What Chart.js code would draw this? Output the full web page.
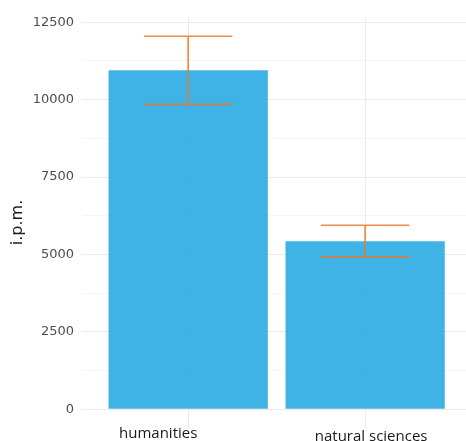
<!DOCTYPE html>
<html>
<head>
<meta charset="utf-8">
<script src="https://cdn.jsdelivr.net/npm/chart.js@4/dist/chart.umd.min.js"></script>
<style>
  html, body { margin: 0; padding: 0; background: #ffffff; }
  #wrap { width: 466px; height: 441px; }
</style>
</head>
<body>
<div id="wrap"><canvas id="c" width="466" height="441"></canvas></div>
<script>
// Frequency (instances per million) by discipline, with error bar limits
const categories = ['humanities', 'natural sciences'];
const ipm = [10950, 5430];
const ipmLower = [9850, 4925];
const ipmUpper = [12050, 5945];
const yTicks = [0, 1250, 2500, 3750, 5000, 6250, 7500, 8750, 10000, 11250, 12500];

// Error bars: vertical stem plus caps half a category wide
const errorBars = {
  id: 'errorBars',
  afterDatasetsDraw(chart) {
    const { ctx, scales: { x, y } } = chart;
    const half = (x.getPixelForValue(1) - x.getPixelForValue(0)) * 0.25;
    ctx.save();
    ctx.strokeStyle = 'rgba(238,120,40,0.85)';
    ctx.lineWidth = 1.7;
    categories.forEach((_, i) => {
      const cx = x.getPixelForValue(i);
      const lo = y.getPixelForValue(ipmLower[i]);
      const hi = y.getPixelForValue(ipmUpper[i]);
      ctx.beginPath();
      ctx.moveTo(cx, lo); ctx.lineTo(cx, hi);
      ctx.moveTo(cx - half, hi); ctx.lineTo(cx + half, hi);
      ctx.moveTo(cx - half, lo); ctx.lineTo(cx + half, lo);
      ctx.stroke();
    });
    ctx.restore();
  }
};

// Category labels under the panel
const labelShift = [-30, 6];
const labelDrop = [0, 3];
const categoryLabels = {
  id: 'categoryLabels',
  afterDraw(chart) {
    const { ctx, scales: { x }, chartArea } = chart;
    ctx.save();
    ctx.font = '15px "Open Sans", sans-serif';
    ctx.fillStyle = '#1a1a1a';
    ctx.textAlign = 'center';
    ctx.textBaseline = 'middle';
    categories.forEach((lab, i) => {
      ctx.fillText(lab, x.getPixelForValue(i) + labelShift[i], chartArea.bottom + 6 + labelDrop[i]);
    });
    ctx.restore();
  }
};

new Chart(document.getElementById('c'), {
  type: 'bar',
  data: {
    datasets: [{
      data: categories.map((_, i) => ({ x: i, y: ipm[i] })),
      backgroundColor: 'rgba(43,171,227,0.9)',
      borderWidth: 0,
      barPercentage: 0.9,
      categoryPercentage: 1.0
    }]
  },
  options: {
    responsive: false,
    animation: false,
    layout: { padding: { top: 17, right: 0, bottom: 0, left: 0 } },
    plugins: { legend: { display: false }, tooltip: { enabled: false } },
    scales: {
      x: {
        type: 'linear',
        offset: false,
        min: -0.6,
        max: 1.57,
        afterBuildTicks: s => { s.ticks = categories.map((_, i) => ({ value: i })); },
        afterFit: s => { s.height = 13; s.paddingLeft = 0; s.paddingRight = 0; },
        ticks: { display: false },
        grid: { offset: false, color: '#ebebeb', lineWidth: 1.1, drawTicks: false },
        border: { display: false }
      },
      y: {
        min: -604,
        max: 12671,
        afterBuildTicks: s => { s.ticks = yTicks.map(v => ({ value: v })); },
        afterFit: s => { s.width = 82; s.paddingTop = 0; s.paddingBottom = 0; },
        ticks: {
          padding: 8,
          color: '#4d4d4d',
          font: { family: '"DejaVu Sans", sans-serif', size: 13 },
          callback: v => (v % 2500 === 0 ? String(v) : '')
        },
        grid: {
          drawTicks: false,
          color: c => (c.tick && c.tick.value % 2500 === 0 ? '#ebebeb' : '#f3f3f3'),
          lineWidth: c => (c.tick && c.tick.value % 2500 === 0 ? 1.1 : 0.8)
        },
        border: { display: false },
        title: {
          display: true,
          text: 'i.p.m.',
          color: '#1a1a1a',
          font: { family: '"DejaVu Sans", sans-serif', size: 16 },
          padding: { top: 8, bottom: 0 }
        }
      }
    }
  },
  plugins: [errorBars, categoryLabels]
});
</script>
</body>
</html>
